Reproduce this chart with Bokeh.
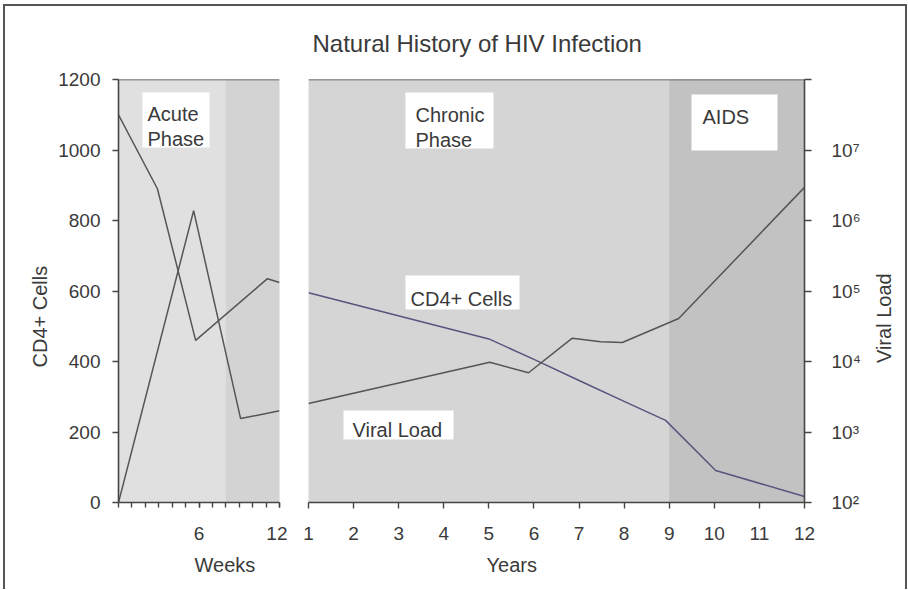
import math
from bokeh.plotting import figure
from bokeh.models import (Range1d, LogScale, LogAxis, FixedTicker, BoxAnnotation,
                          Label, Span, Title)
from bokeh.layouts import row
from bokeh.embed import file_html
from bokeh.resources import INLINE

# ---------------- data ----------------
title_text = "Natural History of HIV Infection"

# acute phase, x in weeks
acute_cd4_weeks = [0, 2.9, 5.75, 11.1, 12]
acute_cd4 = [1100, 890, 460, 635, 624]
acute_vl_weeks = [0, 5.6, 9.1, 12]
acute_vl = [100, 1.38e6, 1550, 2000]

# chronic phase / AIDS, x in years
chronic_cd4_years = [1, 5, 6, 7, 8, 8.92, 10.03, 12]
chronic_cd4 = [595, 464, 406, 346, 287, 233, 91, 17]
chronic_vl_years = [1, 5.02, 5.88, 6.85, 7.48, 7.96, 9.21, 12]
chronic_vl = [2540, 9770, 6920, 21400, 19050, 18600, 40700, 2.95e6]

# ticks
cd4_ticks = [0, 200, 400, 600, 800, 1000, 1200]
week_major_ticks = [6, 12]
week_minor_ticks = list(range(0, 13))
year_ticks = list(range(1, 13))
vl_ticks = [1e2, 1e3, 1e4, 1e5, 1e6, 1e7, 1e8]
vl_tick_labels = ["10²", "10³", "10⁴", "10⁵", "10⁶", "10⁷", ""]

# phase shading bounds
week_phase_bounds = [0, 8, 12]
year_phase_bounds = [1, 9, 12]

# ---------------- style ----------------
FONT = "Liberation Sans"
TXT = "#3a3a3a"
AX = "#454545"
LINE_GRAY = "#555555"
LINE_BLUE = "#55557f"


def style_axis(ax, tick_out, standoff):
    ax.axis_line_color = AX
    ax.axis_line_width = 1.6
    ax.major_tick_line_color = AX
    ax.major_tick_line_width = 1.4
    ax.minor_tick_line_color = AX
    ax.minor_tick_line_width = 1.4
    ax.major_tick_in = 0
    ax.major_tick_out = tick_out
    ax.minor_tick_in = 0
    ax.minor_tick_out = 0
    ax.major_label_text_font = FONT
    ax.major_label_text_font_size = "19px"
    ax.major_label_text_color = TXT
    ax.major_label_standoff = standoff


def add_text(p, x, y, text, size="20px", align="left", baseline="alphabetic", angle=0.0):
    p.add_layout(Label(x=x, y=y, text=text, text_font=FONT, text_font_size=size,
                       text_color=TXT, text_align=align, text_baseline=baseline, angle=angle))


def add_box(p, left, right, bottom, top):
    p.add_layout(BoxAnnotation(left=left, right=right, bottom=bottom, top=top,
                               fill_color="white", fill_alpha=1.0, line_alpha=0.0))


def side_title(p, text, side, offset, standoff, size="20px"):
    t = Title(text=text, align="left", offset=offset, standoff=standoff,
              text_font=FONT, text_font_size=size, text_font_style="normal",
              text_color=TXT)
    p.add_layout(t, side)


H = 583
TOP = 73
BOTTOM = 87

# ---------------- left panel: weeks ----------------
p1 = figure(width=282, height=H, x_range=Range1d(0, 12), y_range=Range1d(0, 1200),
            output_backend="svg", toolbar_location=None, tools="",
            min_border_left=113, min_border_right=8, min_border_top=TOP, min_border_bottom=BOTTOM,
            background_fill_color="#e0e0e0", border_fill_color="white", outline_line_color=None)
p1.extra_y_ranges = {"vl": Range1d(1e2, 1e8)}
p1.extra_y_scales = {"vl": LogScale()}
p1.xgrid.visible = False
p1.ygrid.visible = False

p1.add_layout(BoxAnnotation(left=week_phase_bounds[1], right=week_phase_bounds[2],
                            fill_color="#d3d3d3", fill_alpha=1.0, line_alpha=0.0, level="underlay"))

xa = p1.xaxis[0]
xa.ticker = FixedTicker(ticks=week_major_ticks, minor_ticks=week_minor_ticks)
style_axis(xa, 5, 19)
xa.minor_tick_out = 5

ya = p1.yaxis[0]
ya.ticker = FixedTicker(ticks=cd4_ticks)
style_axis(ya, 6, 12)

p1.add_layout(Span(location=1200, dimension="width", line_color=AX, line_width=1.6))

p1.line(acute_cd4_weeks, acute_cd4, line_color=LINE_GRAY, line_width=1.5)
p1.line(acute_vl_weeks, acute_vl, line_color=LINE_GRAY, line_width=1.5, y_range_name="vl")

add_box(p1, 1.79, 6.78, 1007, 1163)
add_text(p1, 2.16, 1103.5, "Acute")
add_text(p1, 2.16, 1032.6, "Phase")

side_title(p1, "CD4+ Cells", "left", 135, 10)
side_title(p1, "Weeks", "below", 76, 18)

# ---------------- right panel: years ----------------
p2 = figure(width=583, height=H, x_range=Range1d(1, 12), y_range=Range1d(0, 1200),
            y_axis_location=None,
            output_backend="svg", toolbar_location=None, tools="",
            min_border_left=21, min_border_right=66, min_border_top=TOP, min_border_bottom=BOTTOM,
            background_fill_color="#d5d5d5", border_fill_color="white", outline_line_color=None)
p2.extra_y_ranges = {"vl": Range1d(1e2, 1e8)}
p2.extra_y_scales = {"vl": LogScale()}
p2.xgrid.visible = False
p2.ygrid.visible = False

p2.add_layout(BoxAnnotation(left=year_phase_bounds[1], right=year_phase_bounds[2],
                            fill_color="#c2c2c2", fill_alpha=1.0, line_alpha=0.0, level="underlay"))

xb = p2.xaxis[0]
xb.ticker = FixedTicker(ticks=year_ticks)
style_axis(xb, 6, 18)

vl_axis = LogAxis(y_range_name="vl", ticker=FixedTicker(ticks=vl_ticks),
                  major_label_overrides=dict(zip(vl_ticks, vl_tick_labels)))
style_axis(vl_axis, 7, 20)
p2.add_layout(vl_axis, "right")

p2.add_layout(Span(location=1200, dimension="width", line_color=AX, line_width=1.6))

p2.line(chronic_cd4_years, chronic_cd4, line_color=LINE_BLUE, line_width=1.5)
p2.line(chronic_vl_years, chronic_vl, line_color=LINE_GRAY, line_width=1.5, y_range_name="vl")

add_box(p2, 3.151, 5.103, 1004, 1163)
add_text(p2, 3.373, 1097.9, "Chronic")
add_text(p2, 3.373, 1027.0, "Phase")
add_box(p2, 9.494, 11.401, 998.6, 1157.5)
add_text(p2, 9.738, 1092.2, "AIDS")
add_box(p2, 3.151, 5.680, 547.5, 644)
add_text(p2, 3.262, 578.7, "CD4+ Cells")
add_box(p2, 1.776, 4.216, 178.7, 261)
add_text(p2, 1.976, 204.3, "Viral Load")

p2.title.text = title_text
p2.title.align = "left"
p2.title.offset = 4
p2.title.vertical_align = "middle"
p2.title.standoff = 44
p2.title.text_font = FONT
p2.title.text_font_size = "24px"
p2.title.text_font_style = "normal"
p2.title.text_color = TXT

side_title(p2, "Years", "below", 178, 18)

# ---------------- narrow strip carrying the right axis title ----------------
STRIP_W = 35
p3 = figure(width=STRIP_W, height=H, x_range=Range1d(0, STRIP_W), y_range=Range1d(0, H),
            x_axis_location=None, y_axis_location=None,
            output_backend="svg", toolbar_location=None, tools="",
            min_border=0, background_fill_color="white", border_fill_color="white",
            outline_line_color=None)
p3.xgrid.visible = False
p3.ygrid.visible = False
add_text(p3, 13, 254, "Viral Load", align="center", baseline="middle", angle=math.pi / 2)

layout = row(p1, p2, p3, margin=(4, 0, 0, 3),
             styles={"border-top": "2px solid #555555",
                     "border-left": "2px solid #555555",
                     "border-right": "2px solid #555555"})

open("out.html", "w").write(file_html(layout, INLINE))
